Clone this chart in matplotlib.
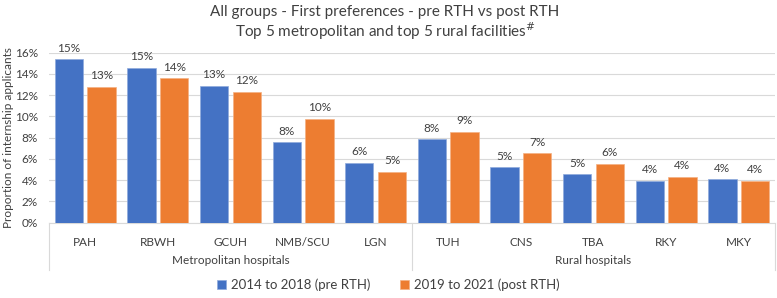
import numpy as np
import matplotlib.pyplot as plt
from matplotlib.ticker import PercentFormatter
from matplotlib.lines import Line2D

plt.rcParams['font.family'] = ['Lato', 'DejaVu Sans']

hospitals = ['PAH', 'RBWH', 'GCUH', 'NMB/SCU', 'LGN', 'TUH', 'CNS', 'TBA', 'RKY', 'MKY']
groups = ['Metropolitan hospitals', 'Rural hospitals']
pre_rth = [15.4, 14.6, 12.9, 7.55, 5.66, 7.87, 5.2, 4.57, 3.93, 4.1]
post_rth = [12.8, 13.6, 12.3, 9.8, 4.8, 8.56, 6.55, 5.55, 4.34, 3.93]
series_names = ['2014 to 2018 (pre RTH)', '2019 to 2021 (post RTH)']

blue = '#4472C4'
orange = '#ED7D31'
grid_col = '#D9D9D9'
text_col = '#404040'

fig = plt.figure(figsize=(7.77, 2.98), dpi=100)
ax = fig.add_axes([0.063, 0.2527, 0.9344, 0.5705])

x = np.arange(len(hospitals))
w = 0.39
off = 0.225
b1 = ax.bar(x - off, pre_rth, w, color=blue, edgecolor='#8FAADC', linewidth=0.5, zorder=3)
b2 = ax.bar(x + off, post_rth, w, color=orange, edgecolor='#F4B183', linewidth=0.5, zorder=3)

for bars in (b1, b2):
    for r in bars:
        v = r.get_height()
        ax.annotate(f'{v:.0f}%', (r.get_x() + r.get_width() / 2, v), xytext=(0, 4),
                    textcoords='offset points', ha='center', va='bottom',
                    fontsize=8.5, color=text_col)

ax.set_xlim(-0.5, len(hospitals) - 0.5)
ax.set_ylim(0, 16)
ax.set_yticks(np.arange(0, 17, 2))
ax.yaxis.set_major_formatter(PercentFormatter(decimals=0))
ax.grid(axis='y', color=grid_col, linewidth=0.8, zorder=0)
for s in ['top', 'right', 'left']:
    ax.spines[s].set_visible(False)
ax.spines['bottom'].set_color(grid_col)
ax.tick_params(axis='y', length=0, pad=8, labelsize=8.5, labelcolor=text_col)
ax.tick_params(axis='x', length=0, pad=10, labelsize=8.5, labelcolor=text_col)
ax.set_xticks(x)
ax.set_xticklabels(hospitals)

# y label placed near the left edge, as in the reference
fig.text(8.5 / 777, 0.538, 'Proportion of internship applicants', rotation=90,
         ha='center', va='center', fontsize=8.5, color=text_col)

# two-level category axis
trans = ax.get_xaxis_transform()
for xs in [-0.5, 4.5, 9.5]:
    ax.add_line(Line2D([xs, xs], [0, -0.28], transform=trans, color=grid_col,
                       linewidth=0.8, clip_on=False))
ax.text(2, -0.225, groups[0], transform=trans, ha='center', va='center',
        fontsize=8.5, color=text_col)
ax.text(7, -0.225, groups[1], transform=trans, ha='center', va='center',
        fontsize=8.5, color=text_col)

fig.text(0.4955, 0.96, 'All groups - First preferences - pre RTH vs post RTH',
         ha='center', va='center', fontsize=11, color=text_col)
fig.text(0.4955, 0.897, 'Top 5 metropolitan and top 5 rural facilities$^{\\#}$',
         ha='center', va='center', fontsize=11, color=text_col)

fig.legend([b1, b2], series_names, loc='center', bbox_to_anchor=(0.5, 0.044),
           ncol=2, frameon=False, fontsize=9.5, handlelength=0.7, handleheight=0.7,
           handletextpad=0.4, columnspacing=2.2, labelcolor=text_col)

fig.savefig('out.png', dpi=100)
